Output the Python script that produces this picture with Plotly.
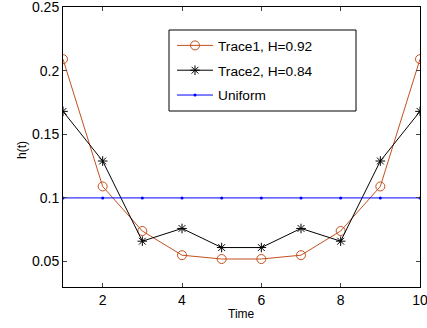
import plotly.graph_objects as go

time = [1, 2, 3, 4, 5, 6, 7, 8, 9, 10]
trace1 = [0.209, 0.109, 0.074, 0.055, 0.052, 0.052, 0.055, 0.074, 0.109, 0.209]
trace2 = [0.168, 0.129, 0.066, 0.076, 0.061, 0.061, 0.076, 0.066, 0.129, 0.168]
uniform = [0.1] * 10
x_ticks = [2, 4, 6, 8, 10]
y_ticks = [0.05, 0.1, 0.15, 0.2, 0.25]
y_ticklabels = ["0.05", "0.1", "0.15", "0.2", "0.25"]

orange = "#c4501e"
fig = go.Figure()
fig.add_trace(go.Scatter(x=time, y=trace1, mode="lines+markers", name="Trace1, H=0.92",
                         legendgroup="a",
                         line=dict(color=orange, width=1),
                         marker=dict(symbol="circle-open", size=9, color=orange, line=dict(width=1))))
fig.add_trace(go.Scatter(x=time, y=trace2, mode="lines+markers", name="Trace2, H=0.84",
                         legendgroup="b",
                         line=dict(color="black", width=1),
                         marker=dict(symbol="asterisk-open", size=8, color="black", line=dict(width=1, color="black"))))
fig.add_trace(go.Scatter(x=time, y=uniform, mode="lines+markers", name="Uniform",
                         legendgroup="c",
                         line=dict(color="#0000ff", width=1),
                         marker=dict(symbol="circle", size=3, color="#0000ff")))

font = "Liberation Sans, Arial, sans-serif"
L, R, T, B = 63, 7, 7, 41
W, H = 427, 328
pw, ph = W - L - R, H - T - B

def px_x(x):
    return (x - L) / pw

def px_y(y):
    return 1 - (y - T) / ph

fig.update_layout(
    width=W, height=H,
    margin=dict(l=L, r=R, t=T, b=B, autoexpand=False),
    paper_bgcolor="white", plot_bgcolor="white",
    font=dict(family=font, size=14, color="black"),
    showlegend=True,
    legend=dict(x=px_x(172), y=px_y(30), xanchor="left", yanchor="top",
                bgcolor="rgba(0,0,0,0)", borderwidth=0,
                font=dict(size=13.7), itemwidth=36, tracegroupgap=4,
                traceorder="grouped"),
    shapes=[dict(type="rect", xref="paper", yref="paper",
                 x0=px_x(169), x1=px_x(356), y0=px_y(111), y1=px_y(30),
                 line=dict(color="black", width=1), fillcolor="white", layer="above")],
    annotations=[
        dict(text="Time", xref="paper", yref="paper", x=0.5, y=px_y(314),
             xanchor="center", yanchor="middle", showarrow=False, font=dict(size=12)),
        dict(text="h(t)", xref="paper", yref="paper", x=px_x(22), y=px_y(150),
             xanchor="center", yanchor="middle", showarrow=False, textangle=-90,
             font=dict(size=12)),
    ],
    xaxis=dict(range=[1, 10], tickvals=x_ticks, ticks="inside", ticklen=4,
               showline=True, linecolor="black", linewidth=1, mirror="ticks",
               showgrid=False, zeroline=False, automargin=False,
               ticklabeloverflow="allow",
               tickfont=dict(size=14)),
    yaxis=dict(range=[0.03, 0.25], tickvals=y_ticks, ticktext=y_ticklabels, ticks="inside", ticklen=4,
               showline=True, linecolor="black", linewidth=1, mirror="ticks",
               showgrid=False, zeroline=False, automargin=False,
               ticklabeloverflow="allow",
               tickfont=dict(size=14)),
)
fig.write_html("out.html", config={"displayModeBar": False},
               post_script="document.body.style.margin='0';document.body.style.overflow='hidden';")
